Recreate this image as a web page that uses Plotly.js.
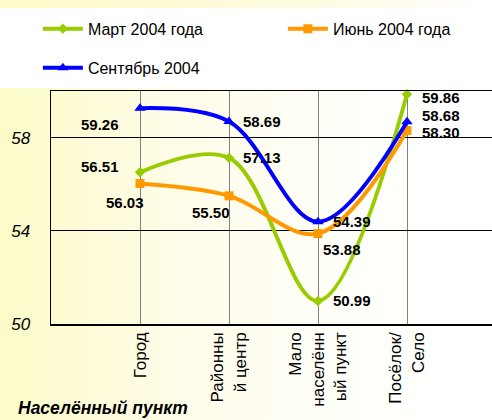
<!DOCTYPE html>
<html>
<head>
<meta charset="utf-8">
<script src="https://cdn.plot.ly/plotly-3.0.1.min.js"></script>
<style>
  html, body { margin: 0; padding: 0; }
  body {
    width: 492px; height: 420px; overflow: hidden; position: relative;
    background: linear-gradient(to right, #fdfcc8 0%, #fffce8 35%, #fffffa 70%, #ffffff 100%);
  }
  #top { position: absolute; left: 0; top: 0; width: 492px; height: 8px;
    background: linear-gradient(to right, #fffbc8, #fffbe0 60%, #ffffff); }
  #legbox { position: absolute; left: 0; top: 8px; width: 492px; height: 80px; background: #ffffff; }
  #plot { position: absolute; left: 0; top: 0; width: 492px; height: 420px; }
</style>
</head>
<body>
<div id="top"></div>
<div id="legbox"></div>
<div id="plot"></div>
<script>
// categories
const places = ['Город', 'Районный центр', 'Малонаселённый пункт', 'Посёлок/Село'];
const placeLabels = ['Город', 'Районны<br>й центр', 'Мало<br>населённ<br>ый пункт', 'Посёлок/<br>Село'];

// series
const march = [56.51, 57.13, 50.99, 59.86];
const june = [56.03, 55.50, 53.88, 58.30];
const sept = [59.26, 58.69, 54.39, 58.68];

const idx = [0, 1, 2, 3];

// label offsets (px) for each data label
const marchShift = [[-40, 6], [33, 0], [34, 0], [34, -3]];
const juneShift = [[-15, -19], [-18, -17], [24, -16], [34, -2]];
const septShift = [[-40, -16], [33, 0], [34, 0], [34, 6]];

const legendFont = { family: 'Arial, Liberation Sans', size: 16, color: '#000' };

function series(name, y, color, symbol, size, legend) {
  return {
    x: idx, y: y, name: name, type: 'scatter', mode: 'lines+markers',
    line: { color: color, width: 4, shape: 'spline', smoothing: 1 },
    marker: { color: color, symbol: symbol, size: size },
    legend: legend,
    cliponaxis: false
  };
}

const traces = [
  series('Март 2004 года', march, '#99cc00', 'diamond', 8, 'legend'),
  series('Июнь 2004 года', june, '#ff9900', 'square', 9, 'legend3'),
  series('Сентябрь 2004', sept, '#0000ff', 'triangle-up', 10, 'legend2')
];

const annotations = [];
[[march, marchShift], [june, juneShift], [sept, septShift]].forEach(function (s) {
  s[0].forEach(function (v, i) {
    annotations.push({
      x: i, y: v, xref: 'x', yref: 'y', text: v.toFixed(2), showarrow: false,
      xshift: s[1][i][0], yshift: s[1][i][1], borderpad: 0,
      font: { family: 'Arial, Liberation Sans', size: 15, color: '#000', weight: 'bold' }
    });
  });
});
annotations.push({
  xref: 'paper', yref: 'paper', x: -0.08, y: -0.362, xanchor: 'left', yanchor: 'middle',
  text: '<b><i>Населённый пункт</i></b>', showarrow: false,
  font: { family: 'Arial, Liberation Sans', size: 17.5, color: '#000' }
});

function leg(x, y) {
  return {
    orientation: 'h', x: x, y: y, yref: 'container', xref: 'container',
    xanchor: 'left', yanchor: 'top', bgcolor: 'rgba(0,0,0,0)', itemwidth: 40, font: legendFont
  };
}

const layout = {
  width: 492, height: 420,
  margin: { l: 51, r: 0, t: 91, b: 96 },
  paper_bgcolor: 'rgba(0,0,0,0)',
  plot_bgcolor: 'rgba(0,0,0,0)',
  showlegend: true,
  font: { family: 'Arial, Liberation Sans', color: '#000' },
  xaxis: {
    range: [-1, 3.955], tickmode: 'array', tickvals: idx, ticktext: placeLabels,
    tickangle: -90, showgrid: true, gridcolor: '#808080', gridwidth: 1,
    showline: true, linecolor: '#000', linewidth: 1.5, mirror: true,
    zeroline: false, ticks: '', fixedrange: true,
    tickfont: { family: 'Arial, Liberation Sans', size: 17, color: '#000' }
  },
  yaxis: {
    range: [50, 60], tick0: 50, dtick: 4, showgrid: true, gridcolor: '#000', gridwidth: 1,
    showline: true, linecolor: '#000', linewidth: 1.5, zeroline: false, ticks: '',
    ticklabelstandoff: 16,
    tickfont: { family: 'Arial, Liberation Sans', size: 17, color: '#000', style: 'italic' }
  },
  legend: leg(0.077, 0.972),
  legend3: leg(0.575, 0.972),
  legend2: leg(0.077, 0.879),
  annotations: annotations
};

Plotly.newPlot('plot', traces, layout, { displayModeBar: false, staticPlot: true });
</script>
</body>
</html>
